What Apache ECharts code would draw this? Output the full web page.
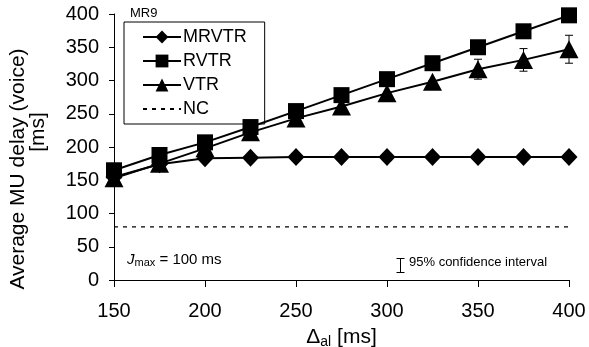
<!DOCTYPE html>
<html><head><meta charset="utf-8">
<script src="https://cdn.jsdelivr.net/npm/echarts@6/dist/echarts.min.js"></script>
<style>html,body{margin:0;padding:0;background:#fff}#c{width:589px;height:347px}</style>
</head><body><div id="c"></div>
<script>
const xValues = [150,175,200,225,250,275,300,325,350,375,400];
const mrvtr = [155,174,183,184,185,185,185,185,185,185,185];
const rvtr  = [165,188,207,230,254,278,302,326,350,374,398];
const vtr   = [153,175,198,222,243,261,281,298,317,331,347];
const vtrErr= [0,0,0,0,0,0,0,2,15,17,21];
const nc    = [80,80,80,80,80,80,80,80,80,80,80];
const yTicks = [0,50,100,150,200,250,300,350,400];
const xTicks = [150,200,250,300,350,400];

const pairs = a => xValues.map((x,i)=>[x,a[i]]);
const F = 'Liberation Sans, Arial, sans-serif';
const chart = echarts.init(document.getElementById('c'));
chart.setOption({
  animation:false,
  grid:{left:114,right:20,top:14,bottom:67,containLabel:false,outerBoundsMode:'none'},
  xAxis:{type:'value',min:xTicks[0],max:xTicks[xTicks.length-1],interval:50,
    axisLine:{lineStyle:{color:'#000',width:1}},
    axisTick:{length:7,lineStyle:{color:'#000'}},
    splitLine:{show:false},
    axisLabel:{color:'#000',fontSize:20,fontFamily:F,margin:21},
    name:'{d|Δ}{s|al}{d| [ms]}',nameLocation:'middle',nameGap:46,
    nameTextStyle:{rich:{d:{fontSize:21,fontFamily:F,color:'#000'},s:{fontSize:14,fontFamily:F,color:'#000',verticalAlign:'bottom',padding:[9,0,0,0]}}}
  },
  yAxis:{type:'value',min:yTicks[0],max:yTicks[yTicks.length-1],interval:50,
    axisLine:{show:true,lineStyle:{color:'#000',width:1}},
    axisTick:{show:true,length:5,lineStyle:{color:'#000'}},
    splitLine:{show:false},
    axisLabel:{color:'#000',fontSize:20,fontFamily:F,margin:15},
    name:'{a|Average MU delay (voice)}\n{b|[ms]}',nameLocation:'middle',nameGap:66,
    nameTextStyle:{rich:{
      a:{color:'#000',fontSize:21,fontFamily:F,lineHeight:20,padding:[0,44,0,0]},
      b:{color:'#000',fontSize:21,fontFamily:F,lineHeight:20,padding:[0,0,0,30]}}}
  },
  legend:{orient:'vertical',left:124,top:22,padding:[6,18,6,18],itemGap:6,itemWidth:38,itemHeight:16,
    borderColor:'#000',borderWidth:1,backgroundColor:'#fff',
    textStyle:{color:'#000',fontSize:18,fontFamily:F,padding:[0,0,0,-3]},
    data:['MRVTR','RVTR','VTR',{name:'NC',itemStyle:{opacity:0}}]},
  graphic:[
    {type:'text',left:130,top:7,style:{text:'MR9',fontSize:13,fontFamily:F,fill:'#000'}},
    {type:'text',left:127,top:252,style:{rich:{j:{fontSize:15,fontStyle:'italic',fontFamily:F,fill:'#000'},s:{fontSize:11,fontFamily:F,fill:'#000',padding:[7,0,0,0]},t:{fontSize:15,fontFamily:F,fill:'#000'}},text:'{j|J}{s|max}{t| = 100 ms}'}},
    {type:'group',left:394,top:256,children:[
      {type:'line',shape:{x1:4,y1:0,x2:4,y2:14},style:{stroke:'#000',lineWidth:1}},
      {type:'line',shape:{x1:0,y1:0,x2:8,y2:0},style:{stroke:'#000',lineWidth:1}},
      {type:'line',shape:{x1:0,y1:14,x2:8,y2:14},style:{stroke:'#000',lineWidth:1}}
    ]},
    {type:'text',left:409,top:256,style:{text:'95% confidence interval',fontSize:13,fontFamily:F,fill:'#000'}}
  ],
  series:[
    {name:'NC',type:'line',data:pairs(nc),symbol:'none',lineStyle:{color:'#000',width:1.3,type:[4,5]},itemStyle:{color:'#000'},z:1},
    {name:'MRVTR',type:'line',data:pairs(mrvtr),symbol:'diamond',symbolSize:[17,18],lineStyle:{color:'#000',width:2},itemStyle:{color:'#000'},z:3},
    {name:'VTR',type:'line',data:pairs(vtr),symbol:'triangle',symbolSize:[19,18],lineStyle:{color:'#000',width:2},itemStyle:{color:'#000'},z:3},
    {name:'RVTR',type:'line',data:pairs(rvtr),symbol:'rect',symbolSize:16,lineStyle:{color:'#000',width:2},itemStyle:{color:'#000'},z:4},
    {name:'VTRerr',type:'custom',z:5,data:xValues.map((x,i)=>[x,vtr[i]-vtrErr[i],vtr[i]+vtrErr[i]]),
      renderItem:function(params,api){
        const lo=api.coord([api.value(0),api.value(1)]);
        const hi=api.coord([api.value(0),api.value(2)]);
        if(Math.abs(lo[1]-hi[1])<2) return null;
        const w=4;
        return {type:'group',children:[
          {type:'line',shape:{x1:lo[0],y1:lo[1],x2:hi[0],y2:hi[1]},style:{stroke:'#000',lineWidth:1}},
          {type:'line',shape:{x1:lo[0]-w,y1:lo[1],x2:lo[0]+w,y2:lo[1]},style:{stroke:'#000',lineWidth:1}},
          {type:'line',shape:{x1:hi[0]-w,y1:hi[1],x2:hi[0]+w,y2:hi[1]},style:{stroke:'#000',lineWidth:1}}
        ]};
      }}
  ]
});
</script></body></html>
